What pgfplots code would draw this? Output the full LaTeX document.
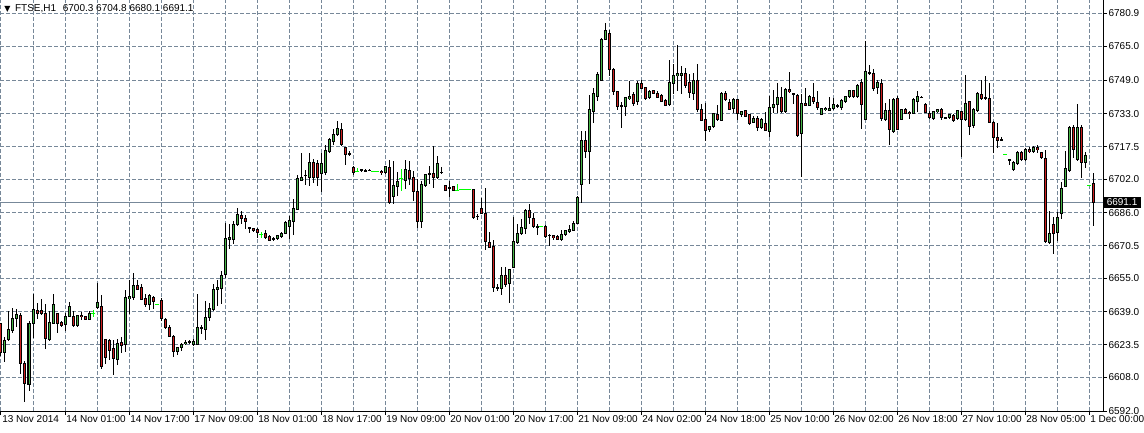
\documentclass[border=0pt]{standalone}
\usepackage{fontspec}
\setmainfont{Liberation Sans}
\newfontfamily\symfont{DejaVu Sans}
\usepackage{pgfplots}
\usepackage{pgfplotstable}
\pgfplotsset{compat=1.18}

\definecolor{gridc}{RGB}{119,136,153}
\definecolor{bull}{RGB}{70,180,70}
\definecolor{bear}{RGB}{205,30,30}
\definecolor{doji}{RGB}{0,255,0}

% hourly bars: t = bar index, o h l c
\pgfplotstableread{
t o h l c
0 6633.3 6634.1 6618.3 6619.9
1 6619.9 6627.0 6615.1 6625.4
2 6626.2 6639.6 6625.4 6630.9
3 6630.1 6641.2 6629.3 6636.0
4 6636.1 6640.4 6631.7 6638.0
5 6637.6 6638.4 6609.6 6614.8
6 6614.8 6615.9 6596.2 6604.9
7 6604.9 6634.9 6601.7 6633.6
8 6633.6 6647.5 6627.0 6640.4
9 6639.9 6643.0 6635.5 6638.4
10 6639.6 6645.1 6637.5 6638.4
11 6638.4 6642.8 6621.4 6626.7
12 6626.2 6639.6 6625.4 6634.1
13 6633.6 6647.5 6633.3 6642.5
14 6638.4 6638.8 6629.3 6633.6
15 6634.1 6634.9 6631.7 6632.5
16 6633.3 6638.8 6630.1 6636.9
17 6636.9 6643.6 6636.5 6641.7
18 6636.9 6639.6 6632.0 6632.5
19 6632.5 6637.6 6632.0 6637.6
20 6637.6 6638.8 6635.2 6636.8
21 6636.8 6637.2 6635.2 6635.7
22 6635.7 6639.6 6635.2 6638.4
23 6638.3 6639.9 6636.7 6638.3
24 6641.0 6652.8 6640.7 6643.5
25 6641.5 6647.0 6612.2 6613.0
26 6626.0 6626.4 6614.3 6617.4
27 6625.3 6626.0 6616.2 6620.9
28 6621.7 6625.7 6609.1 6617.0
29 6616.6 6626.0 6613.8 6624.1
30 6624.4 6626.9 6619.3 6623.3
31 6623.6 6649.4 6620.1 6645.9
32 6645.4 6654.4 6638.3 6646.5
33 6645.9 6657.6 6644.6 6651.7
34 6651.7 6654.4 6649.4 6649.8
35 6650.6 6652.5 6644.9 6645.1
36 6645.7 6647.5 6641.5 6642.7
37 6642.7 6647.5 6640.2 6646.7
38 6645.9 6646.5 6640.7 6644.3
39 6642.7 6643.0 6642.4 6642.7
40 6644.6 6645.9 6634.8 6635.9
41 6635.4 6635.9 6631.0 6631.5
42 6631.7 6632.8 6627.2 6627.6
43 6627.6 6628.3 6617.8 6620.1
44 6620.1 6622.5 6618.5 6622.2
45 6622.2 6624.4 6620.6 6623.8
46 6624.0 6625.5 6623.5 6624.6
47 6624.6 6625.6 6623.8 6625.0
48 6623.8 6626.0 6623.0 6625.0
49 6623.8 6647.5 6623.8 6631.7
50 6631.7 6633.2 6628.5 6631.3
51 6630.9 6644.3 6625.7 6636.4
52 6636.4 6643.5 6634.8 6640.9
53 6640.4 6652.2 6639.6 6649.9
54 6649.9 6654.1 6642.0 6650.6
55 6650.3 6658.6 6642.8 6656.5
56 6656.7 6681.5 6655.4 6673.9
57 6673.6 6680.7 6668.8 6674.4
58 6673.6 6682.2 6671.2 6680.4
59 6680.4 6688.3 6679.9 6685.4
60 6684.9 6687.0 6680.7 6683.4
61 6683.5 6685.1 6678.3 6682.2
62 6679.0 6679.4 6676.7 6678.6
63 6678.8 6679.1 6677.2 6677.8
64 6678.3 6679.1 6674.4 6676.7
65 6675.9 6677.2 6674.0 6675.9
66 6676.2 6678.3 6674.0 6674.4
67 6675.1 6675.6 6672.8 6673.2
68 6673.7 6674.7 6672.5 6673.5
69 6673.8 6675.8 6673.1 6675.3
70 6674.7 6676.9 6674.2 6676.3
71 6676.3 6682.1 6675.8 6681.3
72 6679.8 6684.8 6673.7 6682.4
73 6682.1 6692.7 6675.8 6688.1
74 6687.7 6704.2 6687.3 6702.7
75 6701.6 6714.5 6701.1 6703.1
76 6704.0 6706.6 6699.5 6703.6
77 6702.7 6714.5 6698.7 6709.8
78 6710.1 6711.7 6700.3 6702.7
79 6709.5 6711.4 6698.7 6702.7
80 6705.0 6714.5 6695.9 6709.8
81 6705.4 6718.5 6704.2 6715.8
82 6715.3 6721.6 6714.8 6720.8
83 6720.0 6725.9 6718.5 6723.2
84 6723.2 6729.5 6722.4 6726.4
85 6725.9 6728.7 6718.0 6718.5
86 6716.9 6717.4 6709.0 6714.0
87 6714.2 6715.3 6713.2 6714.0
88 6707.9 6708.2 6704.2 6705.4
89 6705.8 6707.3 6705.8 6705.8
90 6706.6 6706.6 6705.4 6706.4
91 6706.3 6706.9 6705.3 6706.0
92 6706.4 6706.7 6705.8 6706.2
93 6705.7 6705.7 6705.7 6705.7
94 6705.7 6705.7 6705.7 6705.7
95 6705.8 6706.3 6704.1 6705.3
96 6705.2 6708.3 6704.7 6708.0
97 6707.5 6711.0 6690.2 6691.0
98 6694.1 6710.7 6690.2 6699.3
99 6698.5 6705.7 6694.1 6701.2
100 6702.3 6707.0 6696.7 6702.3
101 6701.2 6711.0 6697.3 6706.8
102 6706.3 6710.7 6699.6 6702.3
103 6702.8 6706.0 6691.7 6696.2
104 6696.5 6702.0 6679.1 6682.0
105 6682.0 6701.2 6678.8 6699.6
106 6699.3 6704.7 6698.1 6704.4
107 6704.7 6708.3 6699.6 6704.4
108 6704.9 6717.8 6698.1 6702.8
109 6703.1 6713.1 6702.0 6709.4
110 6705.6 6707.9 6704.4 6705.3
111 6699.2 6699.3 6696.8 6697.0
112 6698.2 6701.2 6693.8 6698.0
113 6698.5 6698.9 6696.5 6696.8
114 6696.8 6699.6 6696.5 6696.8
115 6697.1 6697.1 6697.1 6697.1
116 6697.1 6697.1 6697.1 6697.1
117 6697.1 6697.1 6697.1 6697.1
118 6697.1 6697.1 6683.4 6684.1
119 6684.7 6685.7 6682.6 6684.4
120 6688.1 6693.3 6685.4 6686.0
121 6685.7 6698.0 6668.7 6672.3
122 6672.3 6677.0 6669.6 6669.9
123 6669.9 6673.1 6648.6 6650.5
124 6650.8 6652.5 6649.1 6650.5
125 6650.2 6660.4 6647.0 6656.2
126 6656.5 6660.4 6651.0 6652.2
127 6652.5 6659.6 6643.1 6659.3
128 6660.4 6684.1 6660.1 6672.6
129 6672.3 6681.0 6671.5 6676.6
130 6676.2 6683.4 6675.5 6678.9
131 6678.6 6688.1 6676.2 6687.3
132 6687.0 6690.2 6680.7 6683.7
133 6683.4 6686.0 6678.9 6679.4
134 6679.6 6680.7 6675.5 6679.4
135 6679.4 6679.4 6679.4 6679.4
136 6679.7 6680.2 6674.4 6674.7
137 6675.6 6675.9 6670.2 6675.4
138 6675.5 6675.8 6673.4 6674.2
139 6675.0 6675.5 6673.0 6673.4
140 6673.4 6678.2 6672.6 6675.8
141 6675.8 6678.2 6675.0 6677.7
142 6677.4 6680.2 6676.6 6678.2
143 6677.7 6682.1 6677.4 6681.3
144 6681.3 6694.0 6680.9 6693.5
145 6699.8 6724.8 6690.8 6720.4
146 6720.4 6725.1 6712.1 6715.3
147 6715.3 6742.2 6699.8 6735.1
148 6734.3 6745.3 6728.7 6742.6
149 6741.4 6753.2 6739.3 6751.6
150 6749.0 6769.0 6748.5 6768.7
151 6768.6 6776.1 6768.2 6772.5
152 6771.4 6773.0 6750.9 6754.3
153 6754.3 6755.1 6742.2 6743.7
154 6743.7 6744.1 6735.1 6736.6
155 6737.0 6738.7 6726.4 6736.6
156 6736.6 6740.9 6731.9 6740.6
157 6740.3 6748.5 6739.8 6741.4
158 6742.2 6743.4 6737.1 6738.2
159 6739.0 6748.5 6737.4 6747.7
160 6747.7 6749.3 6745.0 6745.3
161 6745.6 6745.9 6739.7 6740.4
162 6740.8 6744.3 6740.0 6743.7
163 6744.3 6744.6 6742.7 6743.0
164 6743.0 6744.0 6740.8 6741.1
165 6741.9 6742.4 6738.5 6739.2
166 6739.6 6740.0 6737.2 6737.3
167 6737.3 6758.5 6736.9 6747.9
168 6747.5 6756.9 6742.4 6751.4
169 6751.1 6766.1 6744.0 6752.2
170 6751.4 6755.8 6742.4 6752.4
171 6752.2 6755.0 6745.6 6746.8
172 6747.9 6752.2 6740.8 6743.2
173 6742.7 6752.7 6740.0 6749.0
174 6748.7 6756.9 6734.2 6735.0
175 6735.3 6737.7 6729.4 6730.2
176 6730.6 6738.5 6720.3 6725.5
177 6725.5 6727.4 6724.7 6727.1
178 6726.9 6733.7 6726.2 6733.2
179 6732.9 6737.4 6729.8 6730.6
180 6730.1 6743.2 6729.8 6742.7
181 6742.7 6744.0 6739.2 6739.7
182 6738.5 6740.0 6734.8 6735.3
183 6735.8 6740.8 6733.4 6740.0
184 6739.8 6740.3 6730.3 6733.5
185 6733.0 6734.6 6731.4 6734.3
186 6734.6 6735.1 6731.4 6731.9
187 6732.7 6733.0 6727.9 6728.7
188 6729.0 6731.9 6728.7 6731.1
189 6731.1 6731.9 6725.1 6726.7
190 6726.7 6731.1 6726.0 6730.3
191 6728.3 6733.9 6724.8 6725.1
192 6724.8 6741.4 6721.9 6736.2
193 6736.2 6744.5 6733.5 6737.4
194 6737.4 6747.7 6733.5 6741.1
195 6741.1 6746.1 6733.5 6734.0
196 6734.0 6745.3 6733.5 6744.5
197 6744.5 6752.9 6743.0 6743.4
198 6743.0 6743.0 6737.7 6742.7
199 6741.8 6742.5 6721.9 6722.7
200 6723.7 6742.5 6703.0 6738.2
201 6738.2 6745.3 6736.6 6737.0
202 6737.1 6741.8 6736.6 6741.4
203 6741.1 6747.7 6737.7 6739.0
204 6738.7 6744.1 6735.1 6736.2
205 6733.0 6735.8 6732.4 6735.5
206 6735.1 6736.2 6734.6 6735.8
207 6734.8 6741.1 6734.3 6735.9
208 6735.9 6740.6 6735.1 6737.5
209 6737.0 6737.9 6735.9 6736.8
210 6736.4 6740.2 6735.1 6739.4
211 6739.0 6741.7 6738.3 6741.4
212 6741.1 6744.6 6740.6 6744.1
213 6744.1 6744.6 6740.6 6741.4
214 6741.4 6747.0 6740.6 6746.5
215 6747.7 6749.6 6726.1 6737.5
216 6730.4 6767.5 6730.0 6753.3
217 6752.9 6756.4 6751.7 6752.6
218 6752.2 6754.4 6743.8 6745.4
219 6745.4 6749.3 6742.7 6748.1
220 6747.4 6749.6 6729.6 6730.7
221 6730.7 6738.3 6730.0 6734.8
222 6734.8 6740.2 6718.5 6725.9
223 6724.8 6740.6 6724.0 6739.8
224 6740.2 6741.4 6725.6 6725.9
225 6730.7 6735.4 6730.0 6735.1
226 6735.4 6735.9 6733.2 6733.5
227 6733.8 6734.3 6730.7 6733.0
228 6733.5 6740.6 6733.2 6739.8
229 6739.0 6743.8 6733.8 6741.4
230 6741.1 6741.4 6740.6 6741.0
231 6737.4 6738.2 6733.5 6733.8
232 6733.5 6734.3 6730.8 6731.4
233 6731.1 6734.6 6730.3 6734.3
234 6734.0 6735.4 6733.5 6735.1
235 6735.1 6735.8 6730.3 6731.1
236 6731.3 6731.9 6730.6 6730.9
237 6731.1 6733.0 6730.6 6732.7
238 6732.4 6733.0 6729.2 6729.8
239 6731.1 6735.1 6730.3 6734.6
240 6734.3 6734.6 6712.9 6730.3
241 6730.3 6751.6 6729.8 6738.2
242 6738.7 6739.3 6723.2 6727.2
243 6727.5 6735.8 6726.7 6735.1
244 6734.7 6743.4 6734.3 6742.5
245 6742.5 6749.3 6739.8 6740.3
246 6740.8 6750.9 6739.8 6740.6
247 6740.6 6747.7 6728.7 6729.2
248 6729.2 6729.5 6714.5 6721.9
249 6721.9 6728.7 6716.9 6720.5
250 6720.9 6722.4 6720.4 6720.7
251 6713.7 6713.7 6713.7 6713.7
252 6711.5 6711.5 6709.0 6711.2
253 6706.6 6710.6 6706.1 6710.1
254 6709.8 6715.6 6709.0 6715.0
255 6715.0 6715.6 6710.9 6711.4
256 6711.4 6716.9 6710.9 6716.1
257 6716.1 6717.2 6714.7 6715.0
258 6715.0 6717.7 6714.5 6716.9
259 6717.2 6718.5 6714.5 6716.1
260 6714.5 6715.3 6711.8 6712.1
261 6711.8 6716.1 6671.9 6672.3
262 6672.3 6686.9 6671.1 6676.6
263 6680.9 6684.0 6666.6 6676.6
264 6676.6 6686.5 6672.6 6684.0
265 6685.6 6700.8 6683.4 6697.9
266 6698.7 6715.3 6698.2 6707.4
267 6706.1 6727.2 6705.5 6726.4
268 6726.7 6727.6 6712.1 6716.1
269 6711.4 6737.7 6710.6 6726.7
270 6726.7 6727.9 6702.7 6710.2
271 6710.1 6715.0 6707.4 6713.3
272 6699.0 6699.0 6699.0 6699.0
273 6700.3 6704.8 6680.1 6691.1
}\ohlc

\begin{document}
\begin{tikzpicture}
\useasboundingbox (0,0) rectangle (858pt,324pt);
\begin{axis}[
  at={(0pt,15.75pt)}, anchor=south west,
  scale only axis, width=827.25pt, height=308.25pt,
  xmin=-0.25, xmax=275.5, ymin=6592.0, ymax=6787.1,
  clip mode=individual,
  axis line style={black, line width=0.75pt},
  tick align=outside, major tick length=3pt, minor tick length=0pt,
  tick style={black, line width=0.75pt},
  xtick pos=bottom, ytick pos=right, yticklabel pos=right,
  xtick={0,16,...,272},
  minor xtick={8,24,...,264},
  xticklabels={13 Nov 2014,14 Nov 01:00,14 Nov 17:00,17 Nov 09:00,18 Nov 01:00,18 Nov 17:00,19 Nov 09:00,20 Nov 01:00,20 Nov 17:00,21 Nov 09:00,24 Nov 02:00,24 Nov 18:00,25 Nov 10:00,26 Nov 02:00,26 Nov 18:00,27 Nov 10:00,28 Nov 05:00,1 Dec 00:00},
  ytick={6592.0,6608.0,6623.5,6639.0,6655.0,6670.5,6686.0,6702.0,6717.5,6733.0,6749.0,6765.0,6780.9},
  yticklabels={6592.0,6608.0,6623.5,6639.0,6655.0,6670.5,6686.0,6702.0,6717.5,6733.0,6749.0,6765.0,6780.9},
  ticklabel style={font=\fontsize{7.5}{9}\selectfont},
  xticklabel style={anchor=north west, inner sep=0pt, xshift=0.75pt, yshift=-0.5pt},
  yticklabel style={anchor=west, inner sep=0pt, xshift=1pt},
  grid=both,
  major grid style={draw=gridc, line width=0.75pt, dash pattern=on 3pt off 1.5pt},
  minor grid style={draw=gridc, line width=0.75pt, dash pattern=on 3pt off 1.5pt},
]
% last price line
\addplot[gridc, line width=0.75pt, forget plot] coordinates {(-1,6691.1) (277,6691.1)};

% wicks
\addplot[draw=none, forget plot,
  restrict expr to domain={abs(\thisrow{c}-\thisrow{o})}{0.005:1000},
  error bars/y dir=both, error bars/y explicit, error bars/error mark=none,
  error bars/error bar style={draw=black, solid, line width=0.75pt}]
  table[x=t, y expr={(\thisrow{h}+\thisrow{l})/2}, y error expr={(\thisrow{h}-\thisrow{l})/2}] {\ohlc};

% body outline
\addplot[draw=none, forget plot,
  restrict expr to domain={abs(\thisrow{c}-\thisrow{o})}{0.005:1000},
  error bars/y dir=both, error bars/y explicit, error bars/error mark=none,
  error bars/error bar style={draw=black, solid, line width=2.25pt}]
  table[x=t, y expr={(\thisrow{o}+\thisrow{c})/2}, y error expr={abs(\thisrow{c}-\thisrow{o})/2+0.2373}] {\ohlc};

% bull fill
\addplot[draw=none, forget plot,
  restrict expr to domain={\thisrow{c}-\thisrow{o}}{0.5:1000},
  error bars/y dir=both, error bars/y explicit, error bars/error mark=none,
  error bars/error bar style={draw=bull, solid, line width=0.75pt}]
  table[x=t, y expr={(\thisrow{o}+\thisrow{c})/2}, y error expr={(\thisrow{c}-\thisrow{o})/2-0.2373}] {\ohlc};

% bear fill
\addplot[draw=none, forget plot,
  restrict expr to domain={\thisrow{o}-\thisrow{c}}{0.5:1000},
  error bars/y dir=both, error bars/y explicit, error bars/error mark=none,
  error bars/error bar style={draw=bear, solid, line width=0.75pt}]
  table[x=t, y expr={(\thisrow{o}+\thisrow{c})/2}, y error expr={(\thisrow{o}-\thisrow{c})/2-0.2373}] {\ohlc};

% doji bars
\addplot[draw=none, forget plot,
  restrict expr to domain={abs(\thisrow{c}-\thisrow{o})}{-1:0.005},
  error bars/y dir=both, error bars/y explicit, error bars/error mark=none,
  error bars/error bar style={draw=doji, solid, line width=0.75pt}]
  table[x=t, y expr={(\thisrow{h}+\thisrow{l})/2}, y error expr={(\thisrow{h}-\thisrow{l})/2}] {\ohlc};
\addplot[only marks, mark=-, mark size=1.5pt, forget plot,
  mark options={draw=doji, solid, line width=0.75pt},
  restrict expr to domain={abs(\thisrow{c}-\thisrow{o})}{-1:0.005}]
  table[x=t, y=c] {\ohlc};

\node[anchor=west, fill=black, text=white, inner xsep=2.6pt, inner ysep=1.6pt,
  font=\fontsize{7.5}{9}\selectfont] at (axis cs:275.5,6691.1) {6691.1};
\node[anchor=north west, inner sep=0pt, xshift=3pt, yshift=-3pt,
  font=\fontsize{7.5}{9}\selectfont] at (rel axis cs:0,1)
  {{\symfont\fontsize{6}{7}\selectfont ▼}\hspace{3.5pt}FTSE,H1\hspace{5pt}6700.3 6704.8 6680.1 6691.1};
\end{axis}
\end{tikzpicture}
\end{document}
